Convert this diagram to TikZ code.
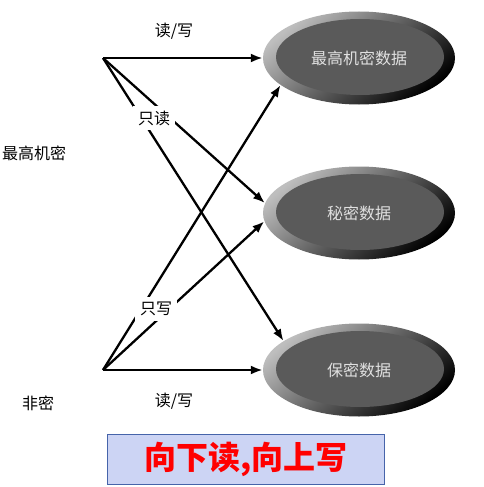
\documentclass[tikz,border=0pt]{standalone}
\usepackage{fontspec}
\setmainfont{Noto Sans CJK SC}
\usetikzlibrary{shapes.geometric,arrows.meta}
\definecolor{rimgray}{RGB}{190,190,190}
\definecolor{coregray}{RGB}{90,90,90}
\definecolor{mottofill}{RGB}{204,212,244}
\definecolor{mottoline}{RGB}{70,100,170}

\tikzset{
  datablob/.style={ellipse, minimum width=192pt, minimum height=93pt, inner sep=0pt,
    left color=rimgray, right color=black, shading angle=40,
    path picture={\fill[coregray] ([xshift=1pt,yshift=1pt]path picture bounding box.center)
      ellipse [x radius=84pt, y radius=38pt];},
    text=white!88!black, font=\fontsize{16}{16}\selectfont},
  flow/.style={-{Latex[length=12pt,width=9pt]}, line width=2.3pt},
  lbl/.style={font=\fontsize{16}{16}\selectfont},
  cut/.style={lbl, fill=white, inner sep=5pt}
}

\begin{document}
\begin{tikzpicture}[x=1pt,y=-1pt]
     \useasboundingbox (0,0) rectangle (483,487);

     % data levels
     \node [datablob] (top) at (359,58) {最高机密数据};
     \node [datablob] (mid) at (359,213) {秘密数据};
     \node [datablob] (low) at (359,370) {保密数据};

     % subjects
     \node [lbl] (hi) at (34,153) {最高机密};
     \node [lbl] (lo) at (38,403) {非密};
     \coordinate (hiT) at (103,58);
     \coordinate (loT) at (103,370);

     \draw [flow] (hiT) -- (top.west);
     \draw [flow] (hiT) -- (mid.174);
     \draw [flow] (hiT) -- (low.159);
     \draw [flow] (loT) -- (low.west);
     \draw [flow] (loT) -- (mid.185);
     \draw [flow] (loT) -- (top.199);

     \node [lbl] (rwT) at (174,31) {读/写};
     \node [lbl] (rwB) at (174,401) {读/写};
     \node [cut] (ro) at (154,118) {只读};
     \node [cut] (wo) at (156,309) {只写};

     \node [draw=mottoline, fill=mottofill, minimum width=277pt, minimum height=50pt,
            text=red, font=\fontsize{32}{32}\selectfont\bfseries] (motto) at (246,459) {向下读,向上写};
\end{tikzpicture}
\end{document}
